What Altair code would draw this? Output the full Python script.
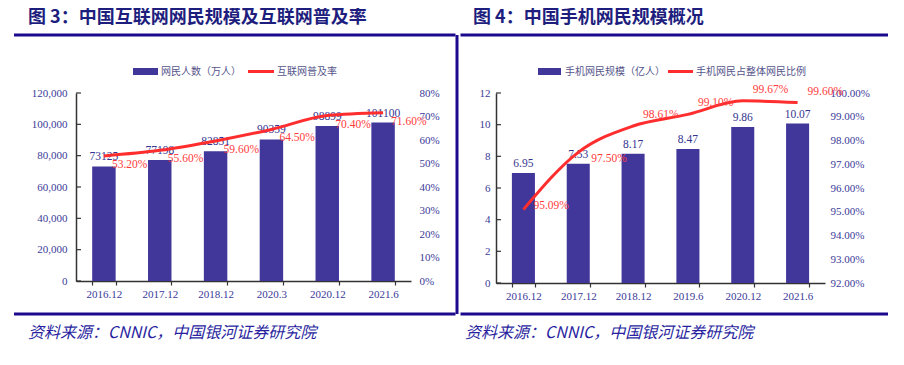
import altair as alt
import pandas as pd

# ---------------- Figure 3 data ----------------
f3_title = "图 3：中国互联网网民规模及互联网普及率"
f3_periods = ["2016.12", "2017.12", "2018.12", "2020.3", "2020.12", "2021.6"]
f3_users = [73125, 77198, 82851, 90359, 98899, 101100]
f3_rate = [0.532, 0.556, 0.596, 0.645, 0.704, 0.716]
f3_left_ticks = [0, 20000, 40000, 60000, 80000, 100000, 120000]
f3_right_ticks = [0.0, 0.1, 0.2, 0.3, 0.4, 0.5, 0.6, 0.7, 0.8]
f3_bar_name = "网民人数（万人）"
f3_line_name = "互联网普及率"

# ---------------- Figure 4 data ----------------
f4_title = "图 4：中国手机网民规模概况"
f4_periods = ["2016.12", "2017.12", "2018.12", "2019.6", "2020.12", "2021.6"]
f4_users = [6.95, 7.53, 8.17, 8.47, 9.86, 10.07]
f4_share = [0.9509, 0.9750, 0.9861, 0.9910, 0.9967, 0.9960]
f4_left_ticks = [0, 2, 4, 6, 8, 10, 12]
f4_right_ticks = [0.92, 0.93, 0.94, 0.95, 0.96, 0.97, 0.98, 0.99, 1.00]
f4_bar_name = "手机网民规模（亿人）"
f4_line_name = "手机网民占整体网民比例"

source_text = "资料来源：CNNIC，中国银河证券研究院"

BAR = "#41369A"
LINE = "#FF2D2D"
RED_TXT = "#FF3B3B"
NAVY_TXT = "#34348F"
AXIS_LBL = "#3A3A98"
AXIS_LINE = "#333333"
FRAME = "#1C0A8C"
TITLE = "#1E1E7E"
SRC = "#2A1FA0"
LEG_TXT = "#55558A"
SERIF = "Liberation Serif"
CJK = "Noto Sans CJK SC"


def one():
    return alt.Data(values=[{"k": 1}])


def text_at(txt, x, y, size, color, weight="normal", style="normal", font=CJK):
    return alt.Chart(pd.DataFrame({"t": [txt]})).mark_text(
        align="left", baseline="middle", font=font, fontSize=size,
        fontWeight=weight, fontStyle=style, color=color
    ).encode(x=alt.value(x), y=alt.value(y), text="t:N")


def hrule(x1, x2, y, color=FRAME, width=3):
    return alt.Chart(one()).mark_rule(color=color, strokeWidth=width).encode(
        x=alt.value(x1), x2=alt.value(x2), y=alt.value(y))


def vrule(x, y1, y2, color=FRAME, width=3):
    return alt.Chart(one()).mark_rule(color=color, strokeWidth=width).encode(
        x=alt.value(x), y=alt.value(y1), y2=alt.value(y2))


def panel(periods, users, rate, lticks, rticks, ldom, rdom, lfmt, rfmt, barfmt,
          width, height, bar_name, line_name, title, title_x, frame_x1, frame_x2,
          src_x, leg, lpad, rpad, label_specs, divider=None):
    df = pd.DataFrame({"period": periods, "users": users, "rate": rate})
    xenc = alt.X("period:N", sort=periods,
                 scale=alt.Scale(paddingInner=0.58, paddingOuter=0.29),
                 axis=alt.Axis(title=None, labelAngle=0, tickBand="extent", tickSize=4,
                               labelPadding=3, domainColor=AXIS_LINE, domainWidth=1.5,
                               tickColor=AXIS_LINE, tickWidth=1.2))
    lscale = alt.Scale(domain=ldom, nice=False, zero=True)
    rscale = alt.Scale(domain=rdom, nice=False, zero=False)

    bars = alt.Chart(df).mark_bar(color=BAR).encode(
        x=xenc,
        y=alt.Y("users:Q", scale=lscale,
                axis=alt.Axis(title=None, values=lticks, format=lfmt, ticks=False,
                              labelPadding=lpad, domainColor=AXIS_LINE, domainWidth=1.5)))
    bar_lbl = alt.Chart(df).mark_text(baseline="bottom", dy=-4, font=SERIF, fontSize=11.5,
                                      color=NAVY_TXT).encode(
        x=xenc, y=alt.Y("users:Q", scale=lscale, axis=None),
        text=alt.Text("users:Q", format=barfmt))
    tickdf = pd.DataFrame({"tv": lticks})
    inticks = alt.Chart(tickdf).mark_rule(color=AXIS_LINE, strokeWidth=1.2).encode(
        y=alt.Y("tv:Q", scale=lscale, axis=None), x=alt.value(0), x2=alt.value(5))

    line = alt.Chart(df).mark_line(color=LINE, strokeWidth=3, interpolate="monotone").encode(
        x=xenc,
        y=alt.Y("rate:Q", scale=rscale,
                axis=alt.Axis(orient="right", title=None, values=rticks, format=rfmt,
                              ticks=False, domain=False, labelPadding=rpad)))
    line_lbls = []
    for sel, dx, dy in label_specs:
        base = alt.Chart(df)
        if sel is not None:
            base = base.transform_filter(alt.FieldOneOfPredicate(field="period", oneOf=sel))
        line_lbls.append(base.mark_text(align="left", baseline="middle", dx=dx, dy=dy,
                                        font=SERIF, fontSize=11.5, color=RED_TXT).encode(
            x=xenc, y=alt.Y("rate:Q", scale=rscale, axis=None),
            text=alt.Text("rate:Q", format=".2%")))

    sw_x1, sw_x2, lt_x, ln_x1, ln_x2, lt2_x = leg
    decos = [
        text_at(title, title_x, -75, 18, TITLE, weight="bold"),
        hrule(frame_x1, frame_x2, -58),
        hrule(frame_x1, frame_x2, 221),
        text_at(source_text, src_x, 239.5, 16, SRC, style="italic"),
        alt.Chart(one()).mark_rect(color=BAR).encode(
            x=alt.value(sw_x1), x2=alt.value(sw_x2), y=alt.value(-25), y2=alt.value(-18)),
        text_at(bar_name, lt_x, -21.5, 10, LEG_TXT),
        hrule(ln_x1, ln_x2, -21.5, color=LINE, width=3),
        text_at(line_name, lt2_x, -21.5, 10, LEG_TXT),
    ]
    if divider is not None:
        decos.append(vrule(divider, -58, 221))

    return alt.layer(bars, bar_lbl, inticks, line, *line_lbls, *decos).resolve_scale(
        y="independent").properties(width=width, height=height)


left = panel(f3_periods, f3_users, f3_rate, f3_left_ticks, f3_right_ticks,
             [0, 120000], [0, 0.8], ",d", ".0%", "d",
             335, 188, f3_bar_name, f3_line_name, f3_title, -48, -62, 379.5, -48,
             (57, 82, 85, 172, 198, 201), 9, 8,
             [(None, 8, 9)], divider=381)

right = panel(f4_periods, f4_users, f4_share, f4_left_ticks, f4_right_ticks,
              [0, 12], [0.92, 1.0], "d", ".2%", ".2f",
              329, 190, f4_bar_name, f4_line_name, f4_title, -23, -35.5, 392, -31,
              (42, 65, 69, 172, 197, 200), 6, 5,
              [(["2016.12"], 10, -4), (["2017.12"], 13, 7),
               (["2018.12", "2019.6", "2020.12", "2021.6"], 10, -11)])

chart = alt.hconcat(left, right, spacing=0).properties(
    padding={"left": 4, "top": 1, "right": 0, "bottom": 0}
).configure_view(stroke=None).configure_axis(
    labelFont=SERIF, labelFontSize=11, labelColor=AXIS_LBL, grid=False
)

chart.save("out.html", embed_options={"renderer": "svg", "actions": False})
